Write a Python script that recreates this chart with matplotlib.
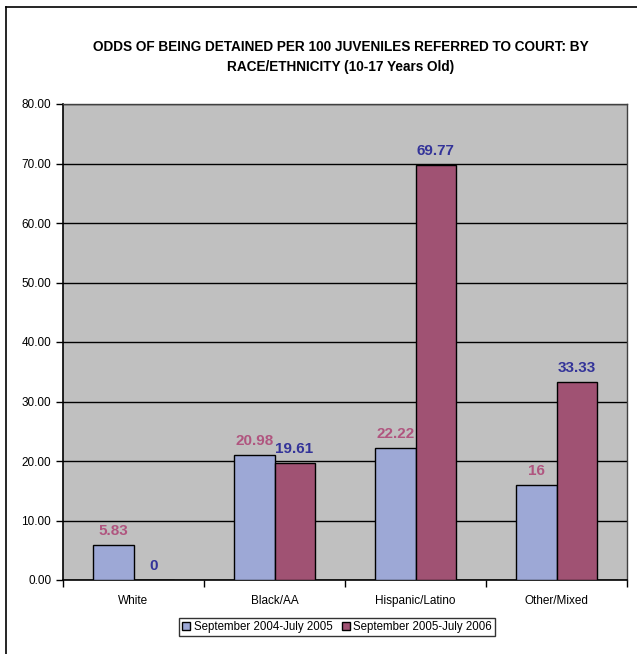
import numpy as np
import matplotlib.pyplot as plt
from matplotlib.lines import Line2D

categories = ["White", "Black/AA", "Hispanic/Latino", "Other/Mixed"]
series_names = ["September 2004-July 2005", "September 2005-July 2006"]
odds_2005 = [5.83, 20.98, 22.22, 16]
odds_2006 = [0, 19.61, 69.77, 33.33]
labels_2005 = ["5.83", "20.98", "22.22", "16"]
labels_2006 = ["0", "19.61", "69.77", "33.33"]

plt.rcParams['font.family'] = ['Liberation Sans', 'DejaVu Sans']

fig = plt.figure(figsize=(6.37, 6.54), dpi=100)
ax = fig.add_axes([63 / 637, 1 - 580 / 654, 564 / 637, 476 / 654])

x = np.arange(len(categories))
w = 0.284
bars1 = ax.bar(x - w / 2, odds_2005, w, color='#9DA8D6', edgecolor='black',
               linewidth=1, label=series_names[0], zorder=3)
bars2 = ax.bar(x + w / 2, odds_2006, w, color='#A05273', edgecolor='black',
               linewidth=1, label=series_names[1], zorder=3)

for b, t in zip(bars1, labels_2005):
    ax.annotate(t, (b.get_x() + b.get_width() / 2, b.get_height()),
                xytext=(0, 5), textcoords='offset points', ha='center',
                va='bottom', fontsize=11, fontweight='bold', color='#B0557F')
for b, t in zip(bars2, labels_2006):
    ax.annotate(t, (b.get_x() + b.get_width() / 2, b.get_height()),
                xytext=(0, 5), textcoords='offset points', ha='center',
                va='bottom', fontsize=11, fontweight='bold', color='#333399')

ax.set_facecolor('#C0C0C0')
ax.set_ylim(0, 80)
ax.set_xlim(-0.5, 3.5)
ax.set_yticks(np.arange(0, 81, 10))
ax.set_yticklabels([f"{v:.2f}" for v in np.arange(0, 81, 10)], fontsize=8.5)
ax.yaxis.grid(True, color='black', linewidth=1, zorder=0)
ax.set_axisbelow(True)

ax.set_xticks(np.arange(-0.5, 4, 1))
ax.set_xticklabels([])
ax.set_xticks(x, minor=True)
ax.set_xticklabels(categories, minor=True, fontsize=8.5)
ax.tick_params(axis='x', which='minor', length=0, pad=11)
ax.tick_params(axis='both', which='major', length=5, width=1, direction='out')

for s in ['left', 'bottom']:
    ax.spines[s].set_color('black')
    ax.spines[s].set_linewidth(1.2)
for s in ['top', 'right']:
    ax.spines[s].set_color('#404040')
    ax.spines[s].set_linewidth(1)

fig.text(341 / 637, 1 - 57 / 654,
         "ODDS OF BEING DETAINED PER 100 JUVENILES REFERRED TO COURT: BY\nRACE/ETHNICITY (10-17 Years Old)",
         ha='center', va='center', fontsize=9.8, fontweight='bold',
         linespacing=1.6)

leg = fig.legend(handles=[bars1, bars2], labels=series_names,
                 loc='center', bbox_to_anchor=(337 / 637, 1 - 627 / 654),
                 ncol=2, fontsize=8.3, frameon=True, fancybox=False,
                 edgecolor='black', handlelength=0.7, handleheight=0.7,
                 handletextpad=0.3, columnspacing=0.8, borderpad=0.3,
                 borderaxespad=0)
leg.get_frame().set_linewidth(1)

# outer chart border (left and top edges)
fig.add_artist(Line2D([6 / 637, 6 / 637], [0, 1 - 7 / 654], color='black',
                      linewidth=1.2, transform=fig.transFigure))
fig.add_artist(Line2D([6 / 637, 1], [1 - 7 / 654, 1 - 7 / 654], color='black',
                      linewidth=1.2, transform=fig.transFigure))

fig.savefig('out.png', dpi=100)
